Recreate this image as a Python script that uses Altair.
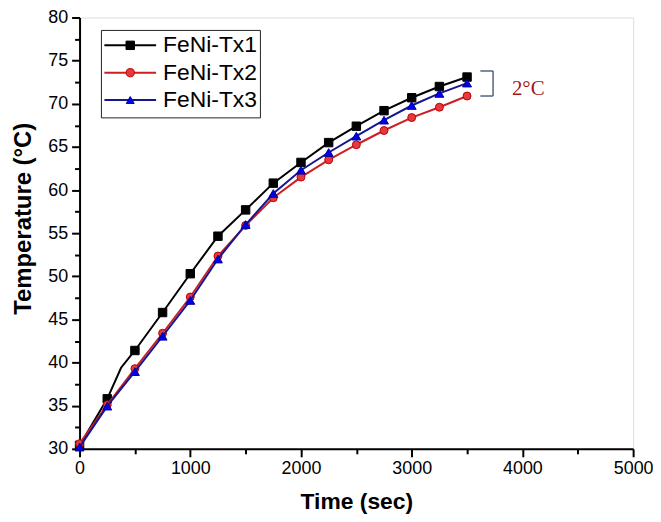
import altair as alt
import pandas as pd

# ---------------- data ----------------
names = ["FeNi-Tx1", "FeNi-Tx2", "FeNi-Tx3"]
time_s = [0, 250, 500, 750, 1000, 1250, 1500, 1750, 2000, 2250, 2500, 2750, 3000, 3250, 3500]
tx1 = [30.4, 35.8, 41.4, 45.8, 50.3, 54.65, 57.7, 60.8, 63.2, 65.5, 67.4, 69.2, 70.7, 72.0, 73.1]
tx2 = [30.6, 35.1, 39.3, 43.4, 47.6, 52.35, 55.9, 59.1, 61.5, 63.5, 65.25, 66.9, 68.4, 69.6, 70.9]
tx3 = [30.2, 34.95, 38.95, 43.05, 47.2, 52.0, 56.0, 59.6, 62.3, 64.35, 66.25, 68.1, 69.8, 71.2, 72.4]
# extra line-only reading (kink in Tx1 line, no marker)
tx1_extra_t = [375]
tx1_extra_v = [39.4]

x_ticks = [0, 500, 1000, 1500, 2000, 2500, 3000, 3500, 4000, 4500, 5000]
y_ticks = [30, 32.5, 35, 37.5, 40, 42.5, 45, 47.5, 50, 52.5, 55, 57.5, 60, 62.5, 65, 67.5, 70, 72.5, 75, 77.5, 80]

# annotation: bracket spanning the end-point spread, and its label
br_t = [3620, 3735]
br_v = [73.8, 70.9]
note_text = "2°C"
note_t = 3905
note_v = 71.7

# ---------------- styles ----------------
line_col = {"FeNi-Tx1": "#000000", "FeNi-Tx2": "#cc1f24", "FeNi-Tx3": "#16168f"}
fill_col = {"FeNi-Tx1": "#000000", "FeNi-Tx2": "#e23a3e", "FeNi-Tx3": "#0000ee"}
edge_col = {"FeNi-Tx1": "#000000", "FeNi-Tx2": "#c00000", "FeNi-Tx3": "#000099"}
shapes = {"FeNi-Tx1": "square", "FeNi-Tx2": "circle", "FeNi-Tx3": "triangle-up"}
sizes = {"FeNi-Tx1": 72, "FeNi-Tx2": 64, "FeNi-Tx3": 80}

FONT = "Liberation Sans, Arial, sans-serif"

xs = alt.Scale(domain=[0, 5000], nice=False, zero=False)
ys = alt.Scale(domain=[30, 80], nice=False, zero=False)

vals = {"FeNi-Tx1": tx1, "FeNi-Tx2": tx2, "FeNi-Tx3": tx3}

xa_main = alt.Axis(
    values=x_ticks, orient="bottom", format="d",
    tickSize={"condition": {"test": "datum.value % 1000 === 0", "value": 8}, "value": 5},
    tickWidth=2, domainWidth=2, domainColor="black", tickColor="black",
    labelExpr="datum.value % 1000 === 0 ? datum.label : ''",
    labelFontSize=18, labelFont=FONT, labelColor="black", labelPadding=3,
    labelFlush=False, labelOverlap=False, grid=False,
    title="Time (sec)", titleFont=FONT, titleFontSize=23, titleFontWeight="bold",
    titleColor="black", titleX=278.5, titleY=60, titleBaseline="alphabetic", titleAnchor="middle")
ya_main = alt.Axis(
    values=y_ticks, orient="left", format="d",
    tickSize={"condition": {"test": "datum.value % 5 === 0", "value": 8}, "value": 5},
    tickWidth=2, domainWidth=2, domainColor="black", tickColor="black",
    labelExpr="datum.value % 5 === 0 ? datum.label : ''",
    labelFontSize=18, labelFont=FONT, labelColor="black", labelPadding=4,
    labelFlush=False, labelOverlap=False, grid=False,
    title="Temperature (°C)", titleFont=FONT, titleFontSize=24, titleFontWeight="bold",
    titleColor="black", titleAngle=270, titleX=-49, titleY=202,
    titleBaseline="alphabetic", titleAlign="center")

layers = []
for i, n in enumerate(names):
    pts = pd.DataFrame({"t": time_s, "v": vals[n], "series": n})
    if n == "FeNi-Tx1":
        ln = pd.concat([pts, pd.DataFrame({"t": tx1_extra_t, "v": tx1_extra_v, "series": n})]).sort_values("t")
    else:
        ln = pts
    xa = xa_main if i == 0 else None
    ya = ya_main if i == 0 else None
    line = alt.Chart(ln).mark_line(color=line_col[n], strokeWidth=2).encode(
        x=alt.X("t:Q", scale=xs, axis=xa),
        y=alt.Y("v:Q", scale=ys, axis=ya),
        order="t:Q",
    )
    point = alt.Chart(pts).mark_point(shape=shapes[n], filled=True, fill=fill_col[n],
                                      stroke=edge_col[n], strokeWidth=1, size=sizes[n],
                                      opacity=1).encode(
        x=alt.X("t:Q", scale=xs, axis=None),
        y=alt.Y("v:Q", scale=ys, axis=None),
    )
    layers += [line, point]

# bracket annotation
br_df = pd.DataFrame({
    "x": [br_t[0], br_t[1], br_t[0]],
    "x2": [br_t[1], br_t[1], br_t[1]],
    "y": [br_v[0], br_v[0], br_v[1]],
    "y2": [br_v[0], br_v[1], br_v[1]],
})
bracket = alt.Chart(br_df).mark_rule(color="#53627f", strokeWidth=1.5).encode(
    x=alt.X("x:Q", scale=xs, axis=None), x2="x2:Q",
    y=alt.Y("y:Q", scale=ys, axis=None), y2="y2:Q",
)
note = alt.Chart(pd.DataFrame({"t": [note_t], "v": [note_v], "s": [note_text]})).mark_text(
    align="left", baseline="middle", fontSize=21, font="Liberation Serif, Times New Roman, serif",
    color="#a3161b").encode(
    x=alt.X("t:Q", scale=xs, axis=None),
    y=alt.Y("v:Q", scale=ys, axis=None),
    text="s:N",
)
layers += [bracket, note]

data_layer = alt.layer(*layers).resolve_axis(x="independent", y="independent")

# ---------------- legend (manual, inside plot) ----------------
leg = pd.DataFrame({"series": names})
ly = alt.Y("series:N", scale=alt.Scale(type="point", domain=names, range=[28, 83], padding=0), axis=None)
box = alt.Chart(pd.DataFrame({"a": [0]})).mark_rect(filled=False, stroke="#222222", strokeWidth=1).encode(
    x=alt.value(22), x2=alt.value(182), y=alt.value(13), y2=alt.value(101))
leg_rule = alt.Chart(leg).mark_rule(strokeWidth=2).encode(
    x=alt.value(25), x2=alt.value(77), y=ly,
    color=alt.Color("series:N", scale=alt.Scale(domain=names, range=[line_col[n] for n in names]), legend=None))
leg_pt = alt.Chart(leg).mark_point(filled=True, strokeWidth=1, opacity=1).encode(
    x=alt.value(51), y=ly,
    shape=alt.Shape("series:N", scale=alt.Scale(domain=names, range=[shapes[n] for n in names]), legend=None),
    fill=alt.Fill("series:N", scale=alt.Scale(domain=names, range=[fill_col[n] for n in names]), legend=None),
    stroke=alt.Stroke("series:N", scale=alt.Scale(domain=names, range=[edge_col[n] for n in names]), legend=None),
    size=alt.Size("series:N", scale=alt.Scale(domain=names, range=[sizes[n] for n in names]), legend=None),
)
leg_text = alt.Chart(leg).mark_text(align="left", baseline="middle", fontSize=23, font=FONT, color="black").encode(
    x=alt.value(84), y=ly, text="series:N")
legend_layer = alt.layer(box, leg_rule, leg_pt, leg_text)

chart = alt.layer(data_layer, legend_layer).resolve_scale(
    y="independent", color="independent", shape="independent", size="independent",
    fill="independent", stroke="independent"
).properties(
    width=557, height=434,
    padding={"left": 72, "top": 8, "right": 20, "bottom": 64},
    autosize=alt.AutoSizeParams(type="none"),
).configure_view(stroke="black", strokeWidth=2).configure(background="white")

chart.save("out.html", embed_options={"renderer": "svg", "actions": False})
